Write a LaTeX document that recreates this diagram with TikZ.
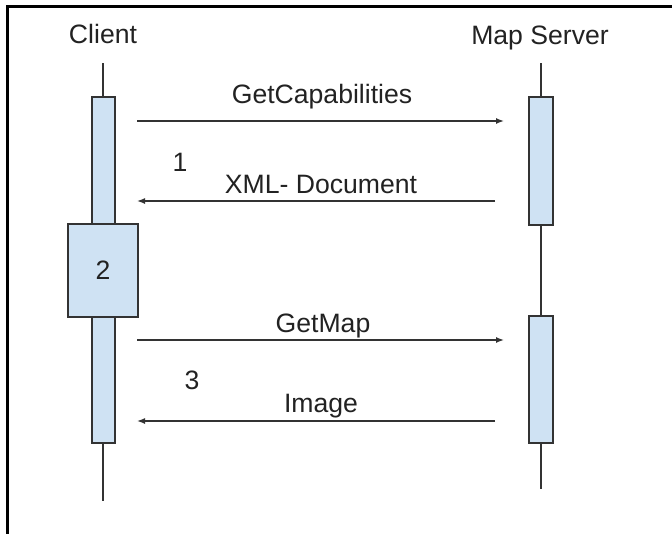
\documentclass[tikz,border=0pt]{standalone}
\usepackage{fontspec}
\setmainfont{Liberation Sans}
\usetikzlibrary{arrows.meta}
\definecolor{ink}{HTML}{222222}
\definecolor{lineink}{HTML}{333333}
\definecolor{actfill}{HTML}{CFE2F3}
\tikzset{
  lbl/.style={text=ink, font=\fontsize{26.6}{30}\selectfont, inner sep=0pt, anchor=base},
  actbox/.style={draw=lineink, line width=1.3pt, fill=actfill, inner sep=0pt, outer sep=0pt},
  lifeline/.style={draw=lineink, line width=1.3pt},
  msg/.style={draw=lineink, line width=1.4pt, -{Latex[length=8pt,width=6pt]}},
}
\begin{document}
\begin{tikzpicture}[x=1pt,y=-1pt]
\useasboundingbox (0,0) rectangle (672,533);
% frame
\draw[line width=2.2pt, black] (7.5,540) -- (7.5,6.5) -- (680,6.5);

% participants
\node[lbl] (client) at (103,43) {Client};
\node[lbl] (server) at (540,44) {Map Server};

% lifelines
\coordinate (ctop) at (103,63);
\coordinate (cbot) at (103,501);
\coordinate (stop) at (541,63);
\coordinate (sbot) at (541,489);
\draw[lifeline] (ctop) -- (cbot);
\draw[lifeline] (stop) -- (sbot);

% activation bars
\node[actbox, minimum width=23pt, minimum height=346pt] (cact) at (103.5,270) {};
\node[actbox, minimum width=24pt, minimum height=128pt] (sact1) at (541,161) {};
\node[actbox, minimum width=24pt, minimum height=127pt] (sact2) at (541,379.5) {};
\node[actbox, minimum width=70pt, minimum height=93pt, text=ink,
      font=\fontsize{26.6}{30}\selectfont] (step2) at (103,270.5) {2};

% message end points
\coordinate (m1a) at (137,121);  \coordinate (m1b) at (504,121);
\coordinate (m2a) at (495,201);  \coordinate (m2b) at (137,201);
\coordinate (m3a) at (137,340);  \coordinate (m3b) at (504,340);
\coordinate (m4a) at (495,421);  \coordinate (m4b) at (137,421);

\draw[msg] (m1a) -- (m1b);
\draw[msg] (m2a) -- (m2b);
\draw[msg] (m3a) -- (m3b);
\draw[msg] (m4a) -- (m4b);

% message labels
\node[lbl] (l1) at (322,103) {GetCapabilities};
\node[lbl] (l2) at (321,193) {XML- Document};
\node[lbl] (l3) at (323,332) {GetMap};
\node[lbl] (l4) at (321,412) {Image};

% step numbers
\node[lbl] (n1) at (180,171) {1};
\node[lbl] (n3) at (192,389) {3};
\end{tikzpicture}
\end{document}
